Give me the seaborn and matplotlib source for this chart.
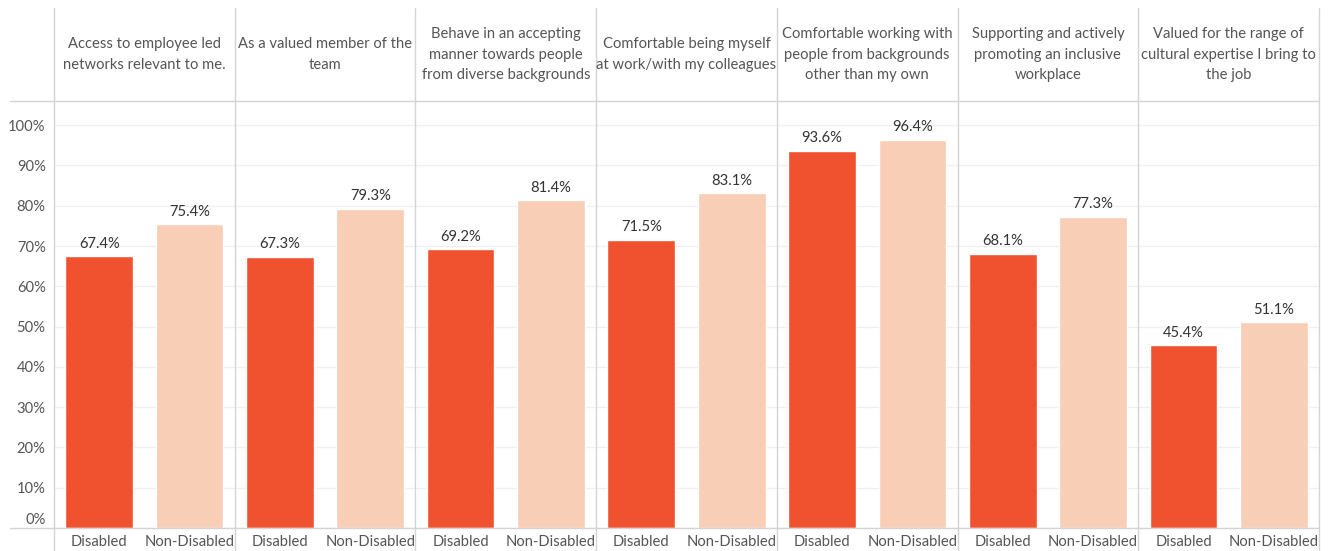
import matplotlib
matplotlib.use("Agg")
import matplotlib.pyplot as plt
from matplotlib.lines import Line2D
from matplotlib.transforms import offset_copy
import seaborn as sns
import pandas as pd

# Survey statements (panel headers) and the two respondent groups
statements = [
    "Access to employee led\nnetworks relevant to me.",
    "As a valued member of the\nteam",
    "Behave in an accepting\nmanner towards people\nfrom diverse backgrounds",
    "Comfortable being myself\nat work/with my colleagues",
    "Comfortable working with\npeople from backgrounds\nother than my own",
    "Supporting and actively\npromoting an inclusive\nworkplace",
    "Valued for the range of\ncultural expertise I bring to\nthe job",
]
groups = ["Disabled", "Non-Disabled"]
disabled_pct = [67.4, 67.3, 69.2, 71.5, 93.6, 68.1, 45.4]
non_disabled_pct = [75.4, 79.3, 81.4, 83.1, 96.4, 77.3, 51.1]
y_ticks = [0, 10, 20, 30, 40, 50, 60, 70, 80, 90, 100]

palette = {"Disabled": "#F05230", "Non-Disabled": "#F8CEB6"}
text_grey = "#555555"
value_grey = "#333333"
line_grey = "#d4d4d4"
grid_grey = "#f0f0f0"

sns.set_theme(style="white")
plt.rcParams["font.family"] = ["Lato", "DejaVu Sans"]

W, H = 1330, 551
fig = plt.figure(figsize=(W / 100, H / 100), dpi=100)

x_left, x_right = 54, 1319
y_header_top, y_header_bottom, y_base = 8, 101, 528
panel_w = (x_right - x_left) / len(statements)
fs = 10.6


def fx(px):
    return px / W


def fy(py):
    return 1 - py / H


for i, stmt in enumerate(statements):
    df = pd.DataFrame({
        "group": groups,
        "value": [disabled_pct[i], non_disabled_pct[i]],
    })
    ax = fig.add_axes([fx(x_left + i * panel_w), fy(y_base),
                       fx(panel_w), fy(y_header_bottom) - fy(y_base)])
    sns.barplot(data=df, x="group", y="value", hue="group", order=groups,
                hue_order=groups, palette=palette, width=0.75, ax=ax,
                legend=False, saturation=1)
    ax.set_ylim(0, 106.0)
    ax.set_xlim(-0.5, 1.5)
    ax.set_yticks(y_ticks)
    ax.yaxis.grid(True, color=grid_grey, linewidth=1)
    ax.set_axisbelow(True)
    for s in ax.spines.values():
        s.set_visible(False)
    ax.set_xlabel("")
    ax.set_ylabel("")
    ax.tick_params(axis="x", length=0, pad=5, labelsize=fs, labelcolor=text_grey)
    if i == 0:
        ax.set_yticklabels([f"{t}%" for t in y_ticks])
        ax.tick_params(axis="y", length=0, pad=6, labelsize=fs, labelcolor=text_grey)
        zero_lbl = ax.get_yticklabels()[0]
        zero_lbl.set_transform(offset_copy(zero_lbl.get_transform(), fig=fig,
                                           y=9, units="dots"))
    else:
        ax.tick_params(axis="y", length=0, labelleft=False)
    for cont in ax.containers:
        ax.bar_label(cont, fmt="%.1f%%", padding=4, fontsize=fs, color=value_grey)

    # Panel header text
    fig.text(fx(x_left + (i + 0.5) * panel_w), fy(54.5), stmt, ha="center",
             va="center", fontsize=fs, color=text_grey, linespacing=1.55)

# Panel separators and header/baseline rules
for i in range(len(statements) + 1):
    xp = x_left + i * panel_w
    fig.add_artist(Line2D([fx(xp), fx(xp)], [fy(y_header_top), 0],
                          color=line_grey, linewidth=1))
for yp in (y_header_bottom, y_base):
    fig.add_artist(Line2D([fx(10), fx(x_right)], [fy(yp), fy(yp)],
                          color=line_grey, linewidth=1))

fig.savefig("out.png", dpi=100, facecolor="white")
